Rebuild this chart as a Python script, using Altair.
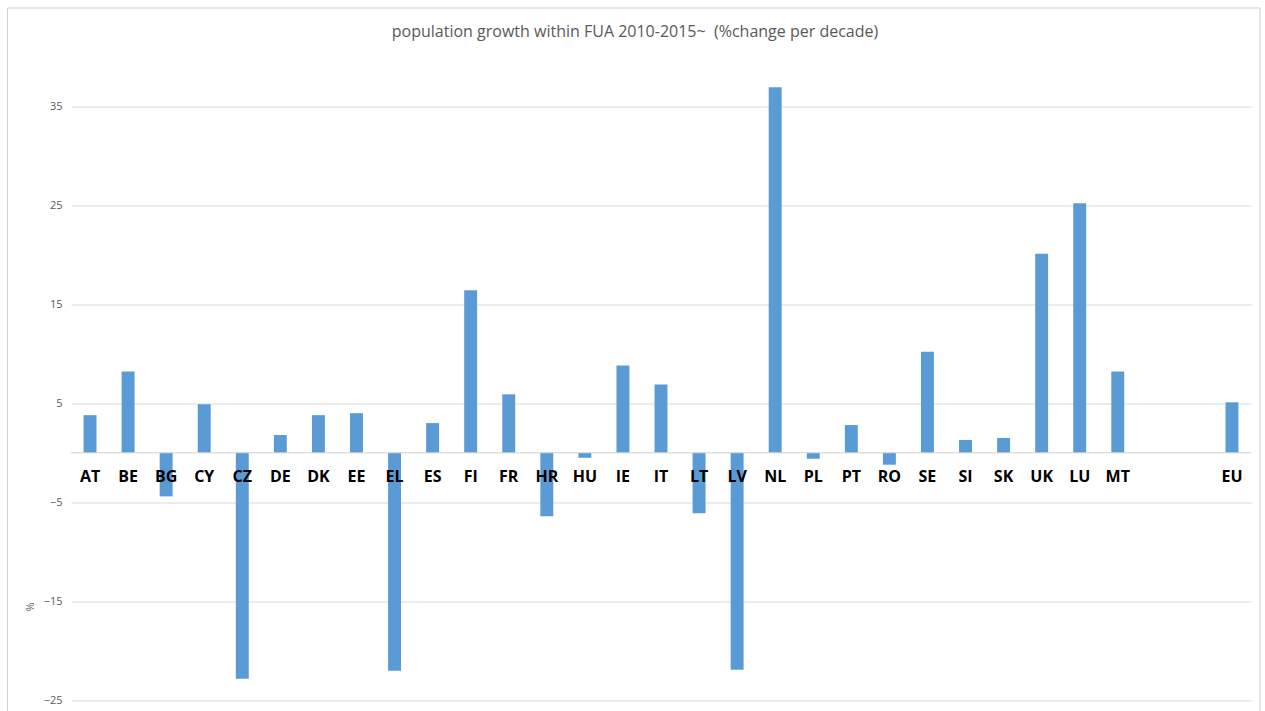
import altair as alt
import pandas as pd

# Member states (plus EU average) and population change within FUAs, % per decade
countries = ["AT", "BE", "BG", "CY", "CZ", "DE", "DK", "EE", "EL", "ES",
             "FI", "FR", "HR", "HU", "IE", "IT", "LT", "LV", "NL", "PL",
             "PT", "RO", "SE", "SI", "SK", "UK", "LU", "MT", "EU"]
growth = [3.8, 8.2, -4.4, 4.9, -22.8, 1.8, 3.8, 4.0, -22.0, 3.0,
          16.4, 5.9, -6.4, -0.5, 8.8, 6.9, -6.1, -21.9, 36.9, -0.6,
          2.8, -1.2, 10.2, 1.3, 1.5, 20.1, 25.2, 8.2, 5.1]

# Category slots on the x axis: two empty slots separate MT from EU
slots = countries[:-1] + [" ", "  "] + countries[-1:]
y_ticks = [-25, -15, -5, 5, 15, 25, 35]

df = pd.DataFrame({"country": countries, "growth": growth})

GRID = "#d9d9d9"
TEXT_GREY = "#595959"
BAR_BLUE = "#5b9bd5"
W, H = 1180, 644

x_enc = alt.X("country:N", sort=slots,
              scale=alt.Scale(domain=slots, paddingInner=0.66, paddingOuter=0.33),
              axis=None)
y_scale = alt.Scale(domain=[-25, 40], nice=False, zero=False)

base = alt.Chart(df)

bars = base.mark_bar(color=BAR_BLUE).encode(
    x=x_enc,
    y=alt.Y("growth:Q", scale=y_scale,
            axis=alt.Axis(values=y_ticks, title="%", grid=True, gridColor=GRID,
                          gridWidth=1, domain=False, ticks=False,
                          labelColor=TEXT_GREY, labelFontSize=11,
                          labelFont="Open Sans", labelPadding=9,
                          titleColor=TEXT_GREY, titleFontSize=11,
                          titleFont="Open Sans", titleFontWeight="normal",
                          titleX=-41, titleY=550, titleAngle=-90,
                          titleAlign="center", titleBaseline="middle")),
    y2=alt.datum(0),
)

zero_line = alt.Chart(pd.DataFrame({"v": [0]})).mark_rule(
    color="#d0d0d0", strokeWidth=1
).encode(y=alt.Y("v:Q", scale=y_scale))

labels = base.mark_text(
    font="Open Sans", fontSize=16, fontWeight="bold", color="#000000",
    baseline="middle", align="center", dy=24
).encode(
    x=x_enc,
    y=alt.Y("zero:Q", scale=y_scale),
    text="country:N",
).transform_calculate(zero="0")

# Outer chart frame
frame = alt.Chart(pd.DataFrame({"v": [0]})).mark_rect(
    fill="transparent", stroke="#d0d0d0", strokeWidth=1
).encode(
    x=alt.value(-63.5), x2=alt.value(1189),
    y=alt.value(-48.5), y2=alt.value(720),
)

chart = alt.layer(bars, zero_line, labels, frame).properties(
    width=W, height=H,
    title=alt.TitleParams(
        "population growth within FUA 2010-2015~\u00a0 (%change per decade)",
        font="Open Sans", fontSize=16, fontWeight="normal", color=TEXT_GREY,
        anchor="middle", frame="group", offset=-32, dx=-26,
    ),
    padding={"left": 71, "top": 56.5, "right": 14, "bottom": 11},
    autosize=alt.AutoSizeParams(type="none"),
).configure_view(strokeWidth=0, stroke="transparent")

chart.save("out.html", embed_options={"renderer": "svg", "actions": False})
